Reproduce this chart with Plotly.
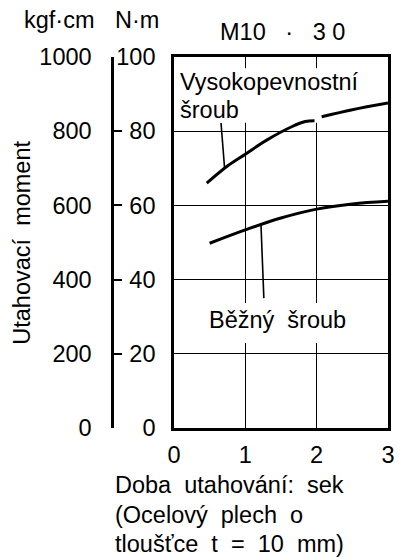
import plotly.graph_objects as go

# ---- data ----
hs_x1 = [0.46, 0.75, 1.0, 1.3, 1.65, 1.84, 1.97]
hs_y1 = [66.0, 70.6, 73.8, 77.6, 81.2, 82.6, 82.8]
hs_x2 = [2.07, 2.5, 3.0]
hs_y2 = [83.9, 85.8, 87.6]
nb_x = [0.5, 1.0, 1.5, 2.0, 2.5, 3.0]
nb_y = [49.8, 53.4, 56.6, 59.0, 60.4, 61.1]
hs_leader_x = [0.66, 0.71]
hs_leader_y = [82.2, 70.0]
nb_leader_x = [1.22, 1.26]
nb_leader_y = [54.8, 35.0]
nm_ticks = [0, 20, 40, 60, 80, 100]
kgf_ticks = [0, 200, 400, 600, 800, 1000]
x_ticks = [0, 1, 2, 3]

W, H = 403, 560
L, R, T, B = 0, 15, 57, 132
PW = W - L - R
PH = H - T - B
def px(x):
    return (x - L) / PW
def py(y):
    return (H - B - y) / PH

FONT = "Liberation Sans, Arial, Helvetica, sans-serif"
FS = 23.5
S2 = "\u00a0\u00a0"
S3 = "\u00a0\u00a0\u00a0"

fig = go.Figure()
line = dict(color="black", width=3)
fig.add_trace(go.Scatter(x=hs_x1, y=hs_y1, mode="lines", line=dict(shape="spline", **line), hoverinfo="skip"))
fig.add_trace(go.Scatter(x=hs_x2, y=hs_y2, mode="lines", line=dict(shape="spline", **line), hoverinfo="skip"))
fig.add_trace(go.Scatter(x=nb_x, y=nb_y, mode="lines", line=dict(shape="spline", **line), hoverinfo="skip"))
fig.add_trace(go.Scatter(x=hs_leader_x, y=hs_leader_y, mode="lines", line=dict(color="black", width=1.6), hoverinfo="skip"))
fig.add_trace(go.Scatter(x=nb_leader_x, y=nb_leader_y, mode="lines", line=dict(color="black", width=1.6), hoverinfo="skip"))
fig.add_trace(go.Scatter(x=[None], y=[None], yaxis="y2", mode="lines", hoverinfo="skip"))

# white patches that hide gridlines behind labels
fig.add_shape(type="rect", xref="x", yref="y", x0=0.02, x1=2.03, y0=82.3, y1=97.0,
              fillcolor="white", line=dict(width=0), layer="between")
fig.add_shape(type="rect", xref="x", yref="y", x0=0.3, x1=2.7, y0=22.9, y1=33.7,
              fillcolor="white", line=dict(width=0), layer="between")

def ann(x, y, text, xref="x", yref="y", xanchor="left", **kw):
    fig.add_annotation(x=x, y=y, xref=xref, yref=yref, text=text, showarrow=False,
                       xanchor=xanchor, yanchor="middle",
                       font=dict(size=FS, family=FONT, color="black"), **kw)

ann(0.06, 93.2, "Vysokopevnostní")
ann(0.06, 85.6, "šroub")
ann(0.47, 29.0, "Běžný" + S2 + "šroub")

# header texts
ann(px(53), py(20), "kgf·cm", xref="paper", yref="paper", xanchor="center")
ann(px(132), py(20), "N·m", xref="paper", yref="paper", xanchor="center")
ann(px(281), py(32), "M10" + S3 + "·" + S3 + "3\u00a00", xref="paper", yref="paper", xanchor="center")
# y title
ann(px(15), py(243), "Utahovací" + S2 + "moment", xref="paper", yref="paper", xanchor="center", textangle=-90)
# x title lines
for txt, yy in [("Doba" + S2 + "utahování:" + S2 + "sek", 485),
                ("(Ocelový" + S2 + "plech" + S2 + "o", 515),
                ("tloušťce" + S2 + "t" + S2 + "=" + S2 + "10" + S2 + "mm)", 544)]:
    ann(px(108), py(yy), txt, xref="paper", yref="paper")

fig.update_layout(
    width=W, height=H, margin=dict(l=L, r=R, t=T, b=B),
    paper_bgcolor="white", plot_bgcolor="white", showlegend=False,
    font=dict(family=FONT, size=FS, color="black"),
    xaxis=dict(domain=[px(170), 1], range=[0, 3], tickvals=x_ticks, ticks="", showgrid=True,
               gridcolor="black", gridwidth=1.3, showline=True, linecolor="black", linewidth=2.5,
               mirror=True, zeroline=False, ticklabelstandoff=4, fixedrange=True,
               tickfont=dict(size=FS, family=FONT)),
    yaxis=dict(range=[0, 100], tickvals=nm_ticks, ticks="", showgrid=True, gridcolor="black",
               gridwidth=1.3, showline=True, linecolor="black", linewidth=2.5, mirror=True,
               zeroline=False, ticklabelstandoff=11, fixedrange=True,
               tickfont=dict(size=FS, family=FONT)),
    yaxis2=dict(range=[0, 1000], tickvals=kgf_ticks, overlaying="y", anchor="free", side="left",
                position=px(107), ticks="inside", ticklen=8, tickwidth=2, tickcolor="black",
                showline=True, linecolor="black", linewidth=2.5, showgrid=False, zeroline=False,
                ticklabelstandoff=15, fixedrange=True, tickfont=dict(size=FS, family=FONT)),
)

fig.write_html("out.html")
